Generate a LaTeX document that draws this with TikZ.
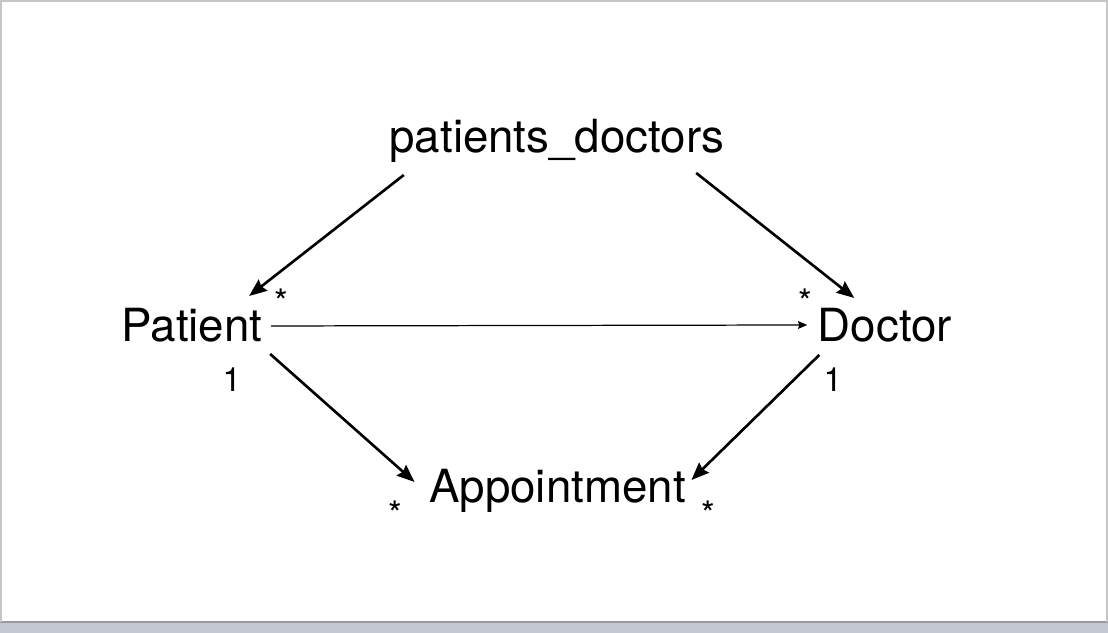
\documentclass[tikz,border=0pt]{standalone}
\usepackage{fontspec}
\setmainfont{TeX Gyre Heros}
\usetikzlibrary{arrows.meta}
\definecolor{barcol}{RGB}{196,200,210}

\begin{document}
\begin{tikzpicture}[
  every node/.style={inner sep=0pt,anchor=base},
  entity/.style={font=\fontsize{13}{15}\selectfont},
  mult/.style={font=\fontsize{9.5}{11}\selectfont},
  many/.style={font=\fontsize{10}{12}\selectfont},
  assoc/.style={line width=0.75pt,-{Stealth[length=5pt,width=4pt,inset=0.6pt]}},
  link/.style={line width=0.35pt,-{Stealth[length=2.6pt,width=2.2pt,inset=0.3pt]}}]
\useasboundingbox (0,0) rectangle (11.08,6.33);
\fill[barcol] (0,0) rectangle (11.08,0.11);
\draw[gray!80,line width=0.6pt] (0,0.11) -- (11.08,0.11);
\draw[gray!45,line width=1.2pt] (0,0.11) -- (0,6.33) -- (11.08,6.33) -- (11.08,0.11);
\node[entity] (pd) at (5.57,4.80) {patients\_doctors};
\node[entity] (patient) at (1.92,2.91) {Patient};
\node[entity] (doctor) at (8.85,2.91) {Doctor};
\node[entity] (appt) at (5.575,1.30) {Appointment};
\draw[assoc] ([shift={(0.15,-0.22)}]pd.base west) -- ([shift={(-0.14,0.46)}]patient.base east);
\draw[assoc] ([shift={(-0.29,-0.20)}]pd.base east) -- ([shift={(0.37,0.44)}]doctor.base west);
\draw[link] ([shift={(0.08,0.16)}]patient.base east) -- ([shift={(-0.10,0.17)}]doctor.base west);
\draw[assoc] ([shift={(0.07,-0.12)}]patient.base east) -- ([shift={(-0.14,0.21)}]appt.base west);
\draw[assoc] ([shift={(0.02,-0.13)}]doctor.base west) -- ([shift={(0.05,0.23)}]appt.base east);
\node[many] (pstar) at (2.81,3.18) {*};
\node[many] (dstar) at (8.05,3.18) {*};
\node[many] (astarl) at (3.95,1.06) {*};
\node[many] (astarr) at (7.08,1.06) {*};
\node[mult] (pone) at (2.32,2.41) {1};
\node[mult] (done) at (8.33,2.41) {1};
\end{tikzpicture}
\end{document}
